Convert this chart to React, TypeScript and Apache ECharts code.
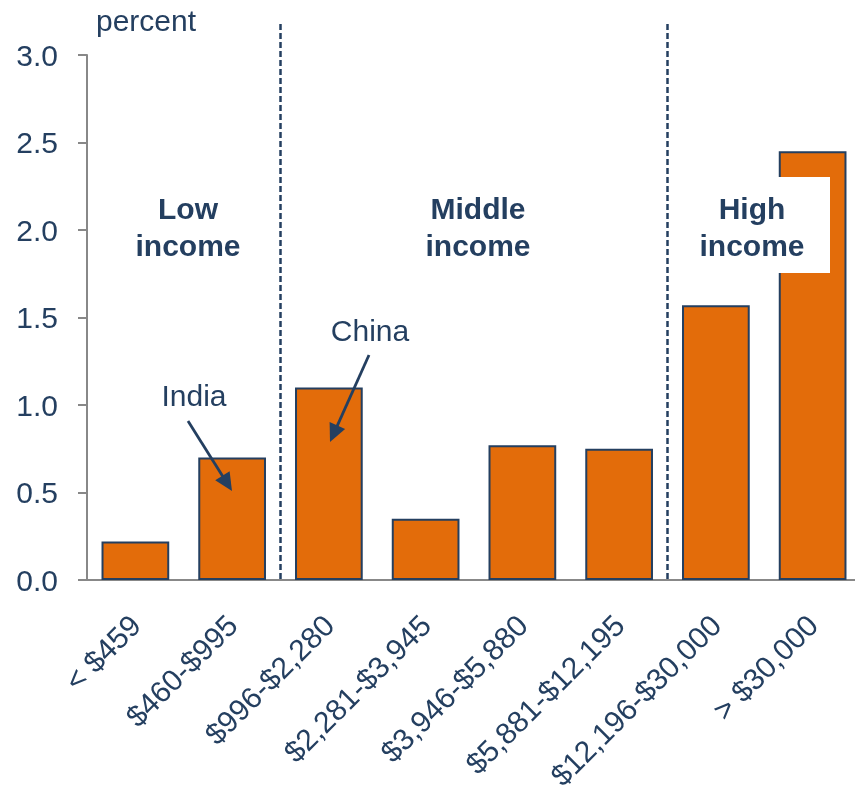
import React, { useEffect, useRef } from "react";
import * as echarts from "echarts";

const categories = [
  "< $459",
  "$460-$995",
  "$996-$2,280",
  "$2,281-$3,945",
  "$3,946-$5,880",
  "$5,881-$12,195",
  "$12,196-$30,000",
  "> $30,000",
];
const values = [0.22, 0.7, 1.1, 0.35, 0.77, 0.75, 1.57, 2.45];
const yMin = 0;
const yMax = 3;
const yInterval = 0.5;
const groupLabels = ["Low\nincome", "Middle\nincome", "High\nincome"];
const groupBoundaries = [1.5, 5.5]; // between category indices

const NAVY = "#243F60";
const ORANGE = "#E36C0A";
const FONT = "'Liberation Sans', Arial, sans-serif";

function arrow(sx: number, sy: number, tx: number, ty: number) {
  const dx = tx - sx;
  const dy = ty - sy;
  const len = Math.sqrt(dx * dx + dy * dy);
  const ux = dx / len;
  const uy = dy / len;
  const L = 18;
  const W = 8.5;
  const bx = tx - ux * L;
  const by = ty - uy * L;
  const nx = -uy;
  const ny = ux;
  return [
    {
      type: "line",
      shape: { x1: sx, y1: sy, x2: bx + ux * 2, y2: by + uy * 2 },
      style: { stroke: NAVY, lineWidth: 2.8 },
      z: 10,
    },
    {
      type: "polygon",
      shape: {
        points: [
          [tx, ty],
          [bx + nx * W, by + ny * W],
          [bx - nx * W, by - ny * W],
        ],
      },
      style: { fill: NAVY },
      z: 10,
    },
  ];
}

export default function App() {
  const ref = useRef<HTMLDivElement>(null);
  useEffect(() => {
    if (!ref.current) return;
    const chart = echarts.init(ref.current, null, { renderer: "svg" });
    chart.setOption({
      animation: false,
      grid: {
        left: 87,
        right: -6,
        top: 55,
        bottom: 218,
        containLabel: false,
        outerBoundsMode: "none",
      },
      xAxis: {
        type: "category",
        data: categories,
        axisLine: { lineStyle: { color: "#888888", width: 2 } },
        axisTick: { length: 8, lineStyle: { color: "#888888", width: 2 } },
        axisLabel: {
          rotate: 45,
          margin: 40,
          color: NAVY,
          fontSize: 30,
          fontFamily: FONT,
          interval: 0,
        },
      },
      yAxis: {
        type: "value",
        min: yMin,
        max: yMax,
        interval: yInterval,
        splitLine: { show: false },
        axisLine: { show: true, lineStyle: { color: "#888888", width: 2 } },
        axisTick: { show: true, length: 9, lineStyle: { color: "#888888", width: 2 } },
        axisLabel: {
          margin: 29,
          color: NAVY,
          fontSize: 30,
          fontFamily: FONT,
          formatter: (v: number) => v.toFixed(1),
        },
      },
      series: [
        {
          type: "bar",
          data: values,
          barWidth: "70%",
          itemStyle: { color: ORANGE, borderColor: NAVY, borderWidth: 2 },
        },
      ],
    });

    const xPix = (i: number) => chart.convertToPixel({ xAxisIndex: 0 }, i) as number;
    const yPix = (v: number) => chart.convertToPixel({ yAxisIndex: 0 }, v) as number;
    const y0 = yPix(0);
    const lastIdx = categories.length - 1;
    const barW = (xPix(1) - xPix(0)) * 0.7;

    const dashed = groupBoundaries.map((b) => {
      const x = (xPix(Math.floor(b)) + xPix(Math.ceil(b))) / 2;
      return {
        type: "line",
        shape: { x1: x, y1: 24, x2: x, y2: y0 },
        style: { stroke: NAVY, lineWidth: 2.5, lineDash: [6, 3] },
        z: 5,
      };
    });

    const groupX = [188, 478, 752];
    const groupTexts = groupLabels.map((t, i) => ({
      type: "text",
      x: groupX[i],
      y: 190,
      style: {
        text: t,
        fill: NAVY,
        font: `bold 30px ${FONT}`,
        textAlign: "center",
        textVerticalAlign: "top",
        lineHeight: 37,
      },
      z: 20,
    }));

    const rectLeft = xPix(lastIdx) - barW / 2 - 1;

    chart.setOption({
      graphic: [
        ...dashed,
        {
          type: "rect",
          shape: { x: rectLeft, y: 177, width: 830 - rectLeft, height: 96 },
          style: { fill: "#ffffff" },
          z: 15,
        },
        ...groupTexts,
        {
          type: "text",
          x: 96,
          y: 20,
          style: {
            text: "percent",
            fill: NAVY,
            font: `30px ${FONT}`,
            textAlign: "left",
            textVerticalAlign: "middle",
          },
          z: 20,
        },
        {
          type: "text",
          x: 194,
          y: 395,
          style: {
            text: "India",
            fill: NAVY,
            font: `30px ${FONT}`,
            textAlign: "center",
            textVerticalAlign: "middle",
          },
          z: 20,
        },
        ...arrow(188, 421, 232, 491),
        {
          type: "text",
          x: 370,
          y: 330,
          style: {
            text: "China",
            fill: NAVY,
            font: `30px ${FONT}`,
            textAlign: "center",
            textVerticalAlign: "middle",
          },
          z: 20,
        },
        ...arrow(369, 355, 330, 442),
      ],
    });

    return () => chart.dispose();
  }, []);
  return (
    <div
      ref={ref}
      style={{ position: "fixed", left: 0, top: 0, width: 855, height: 798 }}
    />
  );
}
